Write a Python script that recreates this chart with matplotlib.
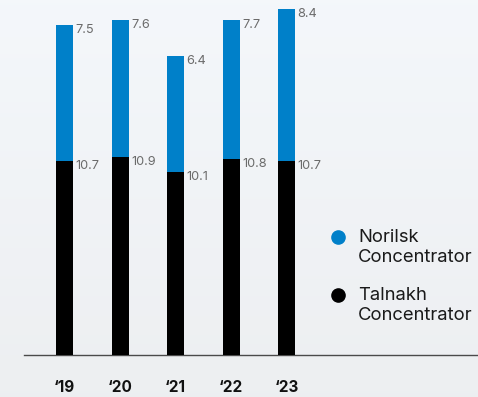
import numpy as np
import matplotlib.pyplot as plt
from matplotlib.lines import Line2D

years = ["‘19", "‘20", "‘21", "‘22", "‘23"]
talnakh = [10.7, 10.9, 10.1, 10.8, 10.7]
norilsk = [7.5, 7.6, 6.4, 7.7, 8.4]

BLUE = "#0080c9"
BLACK = "#000000"
GREY = "#6b6b6b"
FONT = ["Inter", "DejaVu Sans"]

W, H = 478, 397
fig = plt.figure(figsize=(W / 100, H / 100), dpi=100)

# soft gradient background
bg = fig.add_axes([0, 0, 1, 1], zorder=-10)
grad = np.linspace(0, 1, 256)[:, None]
top = np.array([0.957, 0.969, 0.984])
bot = np.array([0.929, 0.937, 0.945])
img = top[None, None, :] * (1 - grad[..., None]) + bot[None, None, :] * grad[..., None]
bg.imshow(img, aspect="auto", extent=[0, 1, 0, 1])
bg.axis("off")

base_px = 355.3
ax = fig.add_axes([24 / W, (H - base_px) / H, (W - 24) / W, base_px / H])
ax.patch.set_alpha(0)

x = np.arange(len(years))
width = 0.306
ax.bar(x, talnakh, width, color=BLACK, zorder=3)
ax.bar(x, norilsk, width, bottom=talnakh, color=BLUE, zorder=3)

for xi, t, n in zip(x, talnakh, norilsk):
    for val, top_y in ((t, t), (n, t + n)):
        ax.annotate(f"{val:.1f}", (xi + width / 2, top_y), xytext=(2.5, 1),
                    textcoords="offset pixels", ha="left", va="top",
                    fontsize=9.2, color=GREY, family=FONT)

ax.set_xlim(-0.73, 7.45)
ax.set_ylim(0, base_px / 18.15)

for s in ("top", "right", "left"):
    ax.spines[s].set_visible(False)
ax.spines["bottom"].set_color("#4a4a4a")
ax.spines["bottom"].set_linewidth(1.0)
ax.set_yticks([])
ax.set_xticks(x)
ax.set_xticklabels(years, fontsize=11, fontweight="bold", family=FONT, color="#111111")
ax.tick_params(axis="x", length=0, pad=18)

# legend
for (cy, col, lines) in ((237, BLUE, ("Norilsk", "Concentrator")),
                         (295, BLACK, ("Talnakh", "Concentrator"))):
    fig.add_artist(Line2D([338 / W], [1 - cy / H], marker="o", markersize=9.5,
                          color=col, linestyle="none", transform=fig.transFigure))
    for k, line in enumerate(lines):
        fig.text(358 / W, 1 - (cy + 20.5 * k) / H, line, ha="left", va="center",
                 fontsize=13.3, color="#1a1a1a", family=FONT)

fig.savefig("out.png", dpi=100)
